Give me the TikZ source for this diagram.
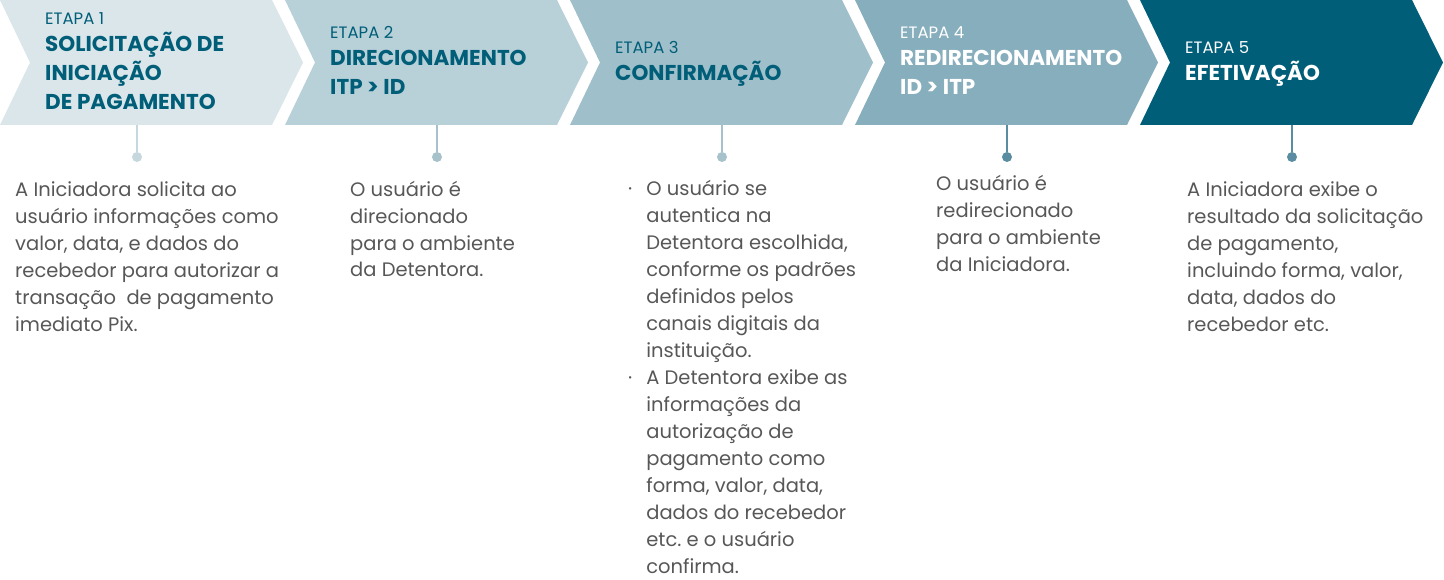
\documentclass[tikz,border=0pt]{standalone}
\usepackage{fontspec}
\setmainfont{Poppins}
\definecolor{etapaum}{HTML}{DAE6EA}
\definecolor{etapadois}{HTML}{B8D0D8}
\definecolor{etapatres}{HTML}{9FC0CA}
\definecolor{etapaquatro}{HTML}{87AEBC}
\definecolor{etapacinco}{HTML}{005E78}
\definecolor{tealtexto}{HTML}{005E78}
\definecolor{cinzatexto}{HTML}{575757}
\definecolor{hasteclara}{HTML}{C6D7DD}
\definecolor{hastemedia}{HTML}{A7C2CB}
\definecolor{hasteescura}{HTML}{5A8DA2}
\tikzset{
  etiqueta/.style={anchor=base west, inner sep=0pt,
    font=\fontsize{16.5}{18}\selectfont},
  titulo/.style={anchor=base west, inner sep=0pt, align=left,
    font=\fontsize{21.5}{29}\selectfont\bfseries},
  corpo/.style={anchor=base west, inner sep=0pt, align=left,
    text=cinzatexto, font=\fontsize{19.5}{27}\selectfont\frenchspacing},
  ponto/.style={circle, inner sep=0pt, minimum size=10pt},
  haste/.style={line width=1.6pt},
}

\begin{document}
\begin{tikzpicture}[x=1pt,y=-1pt]
    \useasboundingbox (0,0) rectangle (1444,580);
    % setas das etapas
    \foreach \x/\cor in {0/etapaum,285/etapadois,570/etapatres,855/etapaquatro,1140/etapacinco}
      \fill[\cor] (\x,0) -- ++(272,0) -- ++(31,62.5) -- ++(-31,62.5) -- ++(-272,0) -- ++(30,-62.5) -- cycle;

    % base = ultima linha do texto
    \node[etiqueta, text=tealtexto] (e1) at (45,25) {ETAPA 1};
    \node[titulo, text=tealtexto] (n1) at (45,110) {SOLICITAÇÃO DE\\INICIAÇÃO\\DE PAGAMENTO};
    \node[etiqueta, text=tealtexto] (e2) at (330,39) {ETAPA 2};
    \node[titulo, text=tealtexto] (n2) at (330,95) {DIRECIONAMENTO\\ITP > ID};
    \node[etiqueta, text=tealtexto] (e3) at (615,54) {ETAPA 3};
    \node[titulo, text=tealtexto] (n3) at (615,81) {CONFIRMAÇÃO};
    \node[etiqueta, text=white] (e4) at (900,39) {ETAPA 4};
    \node[titulo, text=white] (n4) at (900,95) {REDIRECIONAMENTO\\ID > ITP};
    \node[etiqueta, text=white] (e5) at (1185,54) {ETAPA 5};
    \node[titulo, text=white] (n5) at (1185,81) {EFETIVAÇÃO};

    % hastes e pontos
    \foreach \i/\x/\cor in {1/137/hasteclara,2/437/hastemedia,3/722/hastemedia,4/1007/hasteescura,5/1292/hasteescura} {
      \coordinate (s\i) at (\x,125);
      \node[ponto, fill=\cor] (d\i) at (\x,157) {};
      \draw[haste, \cor] (s\i) -- (d\i);
    }

    \node[corpo] (t1) at (15,331) {A Iniciadora solicita ao\\usuário informações como\\valor, data, e dados do\\recebedor para autorizar a\\transação\ \ de pagamento\\imediato Pix.};
    \node[corpo] (t2) at (350,277) {O usuário é\\direcionado\\para o ambiente\\da Detentora.};
    \node[corpo] (t3) at (628,196) {\begin{tabular}[t]{@{}l@{\hspace{14pt}}l@{}}
      · & O usuário se\\ & autentica na\\ & Detentora escolhida,\\ & conforme os padrões\\
        & definidos pelos\\ & canais digitais da\\ & instituição.\\
      · & A Detentora exibe as\\ & informações da\\ & autorização de\\ & pagamento como\\
        & forma, valor, data,\\ & dados do recebedor\\ & etc. e o usuário\\ & confirma.
      \end{tabular}};
    \node[corpo] (t4) at (936,272) {O usuário é\\redirecionado\\para o ambiente\\da Iniciadora.};
    \node[corpo] (t5) at (1187,331) {A Iniciadora exibe o\\resultado da solicitação\\de pagamento,\\incluindo forma, valor,\\data, dados do\\recebedor etc.};
\end{tikzpicture}
\end{document}
